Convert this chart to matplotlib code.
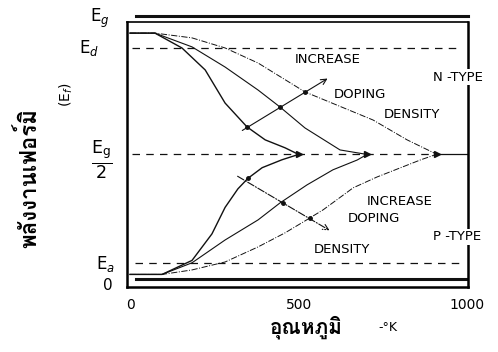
import matplotlib
matplotlib.use("Agg")
import matplotlib.pyplot as plt
from matplotlib import font_manager
from matplotlib.ft2font import FT2Font

# หาฟอนต์ที่มีอักษรไทย
thai_font = None
for f in font_manager.fontManager.ttflist:
    try:
        if 0x0E1E in FT2Font(f.fname).get_charmap():
            thai_font = f.name
            break
    except Exception:
        pass
thai_family = [thai_font, "DejaVu Sans"] if thai_font else ["DejaVu Sans"]

# อุณหภูมิ (K) / พลังงาน (หน่วย Eg)
n1_t = [0, 74, 154, 223, 282, 347, 401, 460, 500]
n1_e = [0.958, 0.958, 0.902, 0.819, 0.694, 0.604, 0.555, 0.525, 0.5]
n2_t = [0, 74, 184, 282, 380, 445, 519, 623, 703]
n2_e = [0.958, 0.958, 0.906, 0.830, 0.743, 0.679, 0.600, 0.517, 0.5]
n3_t = [0, 74, 184, 282, 380, 519, 721, 822, 911]
n3_e = [0.958, 0.958, 0.940, 0.902, 0.845, 0.736, 0.630, 0.555, 0.5]

p1_t = [0, 95, 184, 243, 282, 320, 350, 392, 451, 500]
p1_e = [0.047, 0.047, 0.10, 0.20, 0.30, 0.37, 0.41, 0.45, 0.48, 0.5]
p2_t = [0, 95, 184, 282, 380, 445, 525, 602, 674, 703]
p2_e = [0.047, 0.047, 0.091, 0.177, 0.253, 0.317, 0.385, 0.442, 0.479, 0.5]
p3_t = [0, 95, 184, 282, 380, 460, 519, 573, 662, 733, 801, 861, 908]
p3_e = [0.047, 0.047, 0.064, 0.094, 0.151, 0.204, 0.249, 0.291, 0.374, 0.415, 0.449, 0.479, 0.5]

e_top = 1.023
e_d = 0.902
e_mid = 0.5
e_a = 0.091
e_bot = 0.030

n_arrow = [(326, 0.585), (593, 0.792)]
p_arrow = [(312, 0.423), (599, 0.208)]
n_dots_t = [347, 445, 519]
n_dots_e = [0.604, 0.679, 0.736]
p_dots_t = [350, 454, 535]
p_dots_e = [0.41, 0.317, 0.26]

xticks = [0, 500, 1000]

fig = plt.figure(figsize=(4.98, 3.52), dpi=100)
ax = fig.add_axes([0.255, 0.185, 0.685, 0.7525])
ax.set_xlim(-9, 1003)
ax.set_ylim(0, 1)

k = "#111111"
# เส้นแนวนอน
ax.plot([18, 1003], [e_top, e_top], color=k, lw=2.2, clip_on=False)
ax.plot([18, 1003], [e_bot, e_bot], color=k, lw=2.2)
ax.plot([6, 973], [e_d, e_d], color=k, lw=0.9, ls=(0, (6, 5)))
ax.plot([6, 911], [e_mid, e_mid], color=k, lw=0.9, ls=(0, (6, 5)))
ax.plot([911, 1003], [e_mid, e_mid], color=k, lw=0.9)
ax.plot([15, 985], [e_a, e_a], color=k, lw=0.9, ls=(0, (6, 5)))

# N-type
ax.plot(n1_t, n1_e, color=k, lw=1.0)
ax.plot(n2_t, n2_e, color=k, lw=0.8)
ax.plot(n3_t, n3_e, color=k, lw=0.7, ls="-.")
# P-type
ax.plot(p1_t, p1_e, color=k, lw=1.0)
ax.plot(p2_t, p2_e, color=k, lw=0.8)
ax.plot(p3_t, p3_e, color=k, lw=0.7, ls="-.")

ax.plot([n1_t[-1], n2_t[-1], n3_t[-1]], [e_mid] * 3, ls="none", marker=">", ms=4, color=k)
ax.plot(n_dots_t, n_dots_e, ls="none", marker="o", ms=2.5, color=k)
ax.plot(p_dots_t, p_dots_e, ls="none", marker="o", ms=2.5, color=k)

ax.annotate("", xy=n_arrow[1], xytext=n_arrow[0],
            arrowprops=dict(arrowstyle="->", lw=0.8, color=k))
ax.annotate("", xy=p_arrow[1], xytext=p_arrow[0],
            arrowprops=dict(arrowstyle="->", lw=0.8, color=k, ls="-."))

fs = 9.5
ax.text(585, 0.857, "INCREASE", fontsize=fs, ha="center", va="center")
ax.text(682, 0.725, "DOPING", fontsize=fs, ha="center", va="center")
ax.text(837, 0.649, "DENSITY", fontsize=fs, ha="center", va="center")
ax.text(801, 0.321, "INCREASE", fontsize=fs, ha="center", va="center")
ax.text(724, 0.257, "DOPING", fontsize=fs, ha="center", va="center")
ax.text(629, 0.143, "DENSITY", fontsize=fs, ha="center", va="center")
ax.text(899, 0.792, "N -TYPE", fontsize=fs, ha="left", va="center", clip_on=False,
        bbox=dict(fc="white", ec="none", pad=1), zorder=5)
ax.text(899, 0.189, "P -TYPE", fontsize=fs, ha="left", va="center", clip_on=False,
        bbox=dict(fc="white", ec="none", pad=1), zorder=5)

for s in ["left", "right", "bottom"]:
    ax.spines[s].set_linewidth(1.8)
ax.spines["top"].set_linewidth(1.2)
ax.set_xticks(xticks)
ax.set_xticklabels([str(v) for v in xticks], fontsize=10)
ax.tick_params(axis="x", length=0, pad=8)
ax.set_yticks([])

# ป้ายแกน y
fig.text(0.201, 0.949, "E$_g$", fontsize=12, ha="center", va="center")
fig.text(0.179, 0.864, "E$_d$", fontsize=12, ha="center", va="center")
fig.text(0.133, 0.730, "(E$_f$)", fontsize=10, ha="center", va="center", rotation=90)
fig.text(0.205, 0.545, r"$\frac{\mathregular{E_g}}{\mathregular{2}}$", fontsize=18, ha="center", va="center")
fig.text(0.211, 0.250, "E$_a$", fontsize=12, ha="center", va="center")
fig.text(0.217, 0.1875, "0", fontsize=11, ha="center", va="center")

fig.text(0.056, 0.494, "พลังงานเฟอร์มิ", fontsize=16, fontweight="bold", family=thai_family,
         ha="center", va="center", rotation=90)
fig.text(0.616, 0.07, "อุณหภูมิ", fontsize=15, fontweight="bold", family=thai_family,
         ha="center", va="center")
fig.text(0.779, 0.07, "-°K", fontsize=9, ha="center", va="center")

plt.savefig("out.png", dpi=100)
